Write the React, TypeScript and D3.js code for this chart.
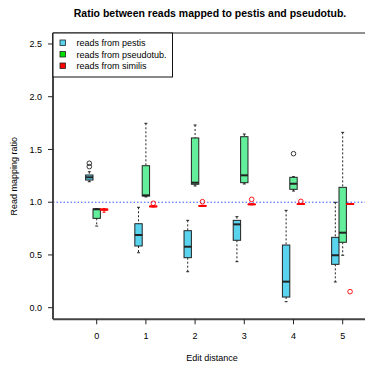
import React from "react";
import * as d3 from "d3";

const categories = [0, 1, 2, 3, 4, 5];
// [whiskerLow, q1, median, q3, whiskerHigh]
const pestisStats = [
  [1.194, 1.21, 1.236, 1.258, 1.289],
  [0.521, 0.585, 0.689, 0.796, 0.952],
  [0.341, 0.474, 0.578, 0.73, 0.828],
  [0.436, 0.639, 0.79, 0.828, 0.863],
  [0.057, 0.101, 0.247, 0.594, 0.923],
  [0.244, 0.411, 0.497, 0.667, 0.999],
];
const pestisOutliers = [[1.337, 1.369], [], [], [], [], []];
const pseudoStats = [
  [0.774, 0.847, 0.933, 0.936, 0.94],
  [1.05, 1.059, 1.065, 1.346, 1.748],
  [1.154, 1.17, 1.185, 1.609, 1.732],
  [1.173, 1.185, 1.255, 1.621, 1.646],
  [1.106, 1.122, 1.175, 1.236, 1.242],
  [0.497, 0.62, 0.711, 1.141, 1.662],
];
const pseudoOutliers = [[], [], [], [], [1.46], []];
const similisStats = [
  [0.905, 0.925, 0.93, 0.935, 0.94],
  [0.955, 0.957, 0.96, 0.963, 0.965],
  [0.96, 0.962, 0.965, 0.967, 0.97],
  [0.975, 0.978, 0.98, 0.982, 0.985],
  [0.978, 0.98, 0.983, 0.985, 0.988],
  [0.978, 0.98, 0.983, 0.985, 0.988],
];
const similisOutliers = [[], [0.99], [1.005], [1.027], [1.008], [0.152]];
const yTicks = [0, 0.5, 1, 1.5, 2, 2.5];
const legendLabels = ["reads from pestis", "reads from pseudotub.", "reads from similis"];
const refLine = 1.0;

const FONT = "'Liberation Sans', Arial, Helvetica, sans-serif";

export default function App() {
  const left = 53, right = 367, top = 33, bottom = 319.3;
  const x = d3.scaleLinear().domain([-0.888, 5.494]).range([left, right]);
  const y = d3.scaleLinear().domain([-0.11, 2.604]).range([bottom, top]);
  const bw = x(0.15) - x(0);

  const series = [
    { stats: pestisStats, out: pestisOutliers, off: -0.15, fill: "#5ad3ef", stroke: "#222", outStroke: "#222", wStroke: "#222", legend: "#5ad3ef" },
    { stats: pseudoStats, out: pseudoOutliers, off: 0, fill: "#62ee9a", stroke: "#222", outStroke: "#222", wStroke: "#222", legend: "#00e000" },
    { stats: similisStats, out: similisOutliers, off: 0.15, fill: "#ff0000", stroke: "#ff0000", outStroke: "#ff0000", wStroke: "#ff0000", legend: "#ff0000" },
  ];

  return (
    <svg width={365} height={369} style={{ position: "absolute", left: 0, top: 0, background: "#fff" }}>
      <rect x={0} y={0} width={365} height={369} fill="#fff" />
      <text x={210} y={17} textAnchor="middle" fontFamily={FONT} fontWeight="bold" fontSize={10.5}>
        Ratio between reads mapped to pestis and pseudotub.
      </text>
      {/* reference line */}
      <line x1={left} x2={right} y1={y(refLine)} y2={y(refLine)} stroke="#3355ff" strokeWidth={1} strokeDasharray="1.5,2" />
      {/* boxes */}
      {series.map((s, si) =>
        categories.map((c, i) => {
          const [lo, q1, med, q3, hi] = s.stats[i];
          const cx = x(c + s.off);
          const cap = bw * 0.4;
          return (
            <g key={`${si}-${i}`}>
              <line x1={cx} x2={cx} y1={y(hi)} y2={y(q3)} stroke={s.wStroke} strokeDasharray="2,2" strokeWidth={1} />
              <line x1={cx} x2={cx} y1={y(q1)} y2={y(lo)} stroke={s.wStroke} strokeDasharray="2,2" strokeWidth={1} />
              <line x1={cx - cap / 2} x2={cx + cap / 2} y1={y(hi)} y2={y(hi)} stroke={s.wStroke} strokeWidth={1} />
              <line x1={cx - cap / 2} x2={cx + cap / 2} y1={y(lo)} y2={y(lo)} stroke={s.wStroke} strokeWidth={1} />
              <rect x={cx - bw / 2} y={y(q3)} width={bw} height={Math.max(0.5, y(q1) - y(q3))} fill={s.fill} stroke={s.stroke} strokeWidth={1} />
              <line x1={cx - bw / 2} x2={cx + bw / 2} y1={y(med)} y2={y(med)} stroke={s.stroke} strokeWidth={2} />
              {s.out[i].map((o, oi) => (
                <circle key={oi} cx={cx} cy={y(o)} r={2.3} fill="none" stroke={s.outStroke} strokeWidth={0.9} />
              ))}
            </g>
          );
        })
      )}
      {/* frame */}
      <line x1={left} x2={right} y1={top} y2={top} stroke="#222" strokeWidth={1} />
      <line x1={left} x2={left} y1={top} y2={bottom} stroke="#444" strokeWidth={2} />
      <line x1={left} x2={right} y1={bottom} y2={bottom} stroke="#444" strokeWidth={2} />
      {/* y axis */}
      {yTicks.map((t) => (
        <g key={t}>
          <line x1={left - 5} x2={left} y1={y(t)} y2={y(t)} stroke="#222" strokeWidth={1} />
          <text x={42} y={y(t) + 3.2} textAnchor="end" fontFamily={FONT} fontSize={9}>
            {t.toFixed(1)}
          </text>
        </g>
      ))}
      {/* x axis */}
      {categories.map((c) => (
        <g key={c}>
          <line x1={x(c)} x2={x(c)} y1={bottom} y2={bottom + 5} stroke="#222" strokeWidth={1} />
          <text x={x(c)} y={339} textAnchor="middle" fontFamily={FONT} fontSize={9}>
            {c}
          </text>
        </g>
      ))}
      <text x={212} y={361} textAnchor="middle" fontFamily={FONT} fontSize={9}>
        Edit distance
      </text>
      <text transform={`translate(17,${(top + bottom) / 2}) rotate(-90)`} textAnchor="middle" fontFamily={FONT} fontSize={9}>
        Read mapping ratio
      </text>
      {/* legend */}
      <rect x={left} y={top} width={119.5} height={44} fill="#fff" stroke="#111" strokeWidth={1} />
      {legendLabels.map((l, i) => (
        <g key={l}>
          <rect x={60} y={40 + i * 11.5} width={5.5} height={5.5} fill={series[i].legend} stroke="#222" strokeWidth={0.8} />
          <text x={76.5} y={46 + i * 11.5} fontFamily={FONT} fontSize={9}>
            {l}
          </text>
        </g>
      ))}
    </svg>
  );
}
